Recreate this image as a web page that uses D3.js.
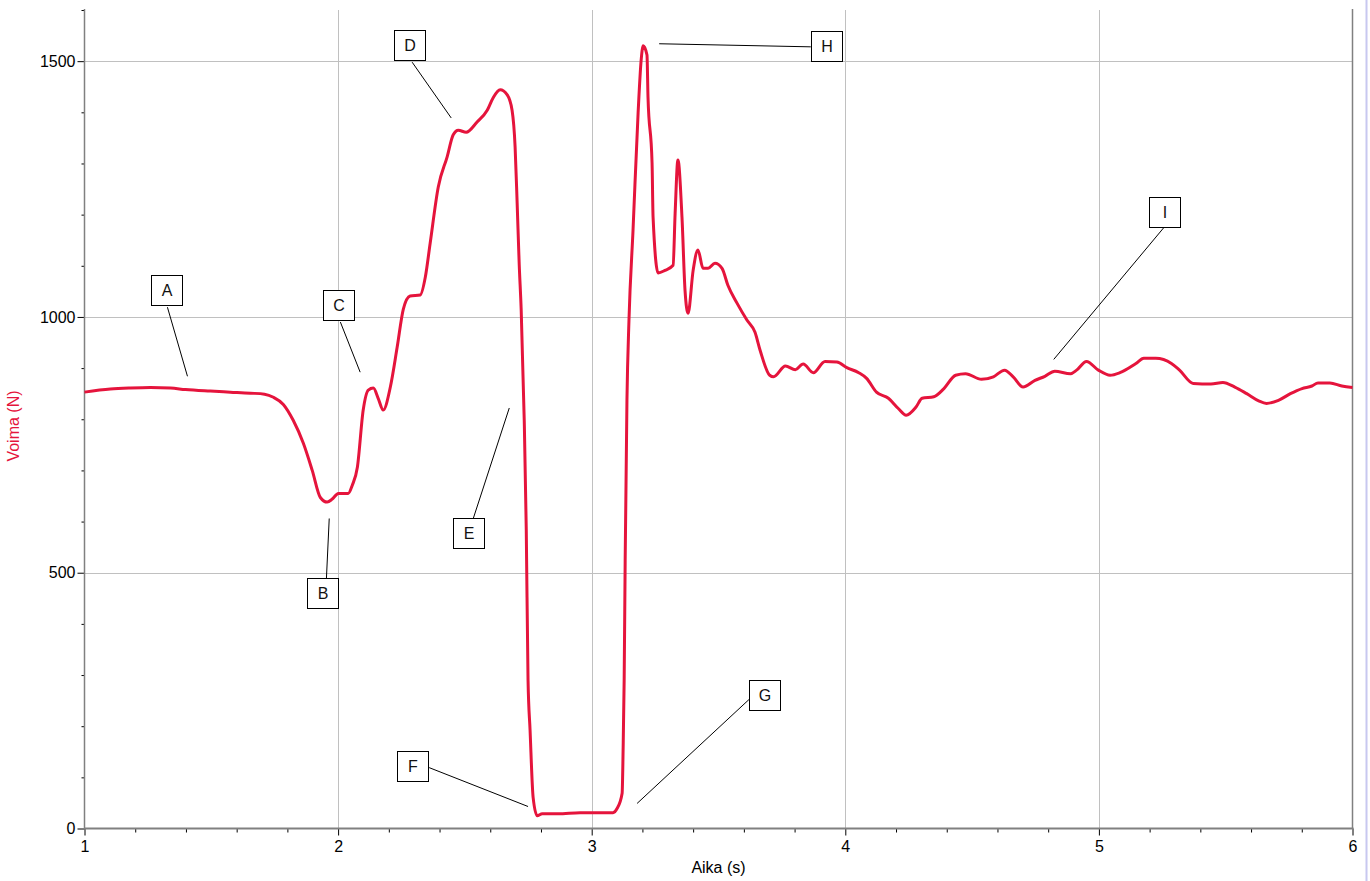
<!DOCTYPE html>
<html>
<head>
<meta charset="utf-8">
<script src="https://cdn.jsdelivr.net/npm/d3@7"></script>
<style>
html,body{margin:0;padding:0;background:#fff;}
svg{display:block;}
text{font-family:Arial,"Liberation Sans",sans-serif;}
</style>
</head>
<body>
<svg id="chart" width="1370" height="881"></svg>
<script>
// ---- data ----
const time = [1.000,1.102,1.181,1.260,1.339,1.398,1.496,1.575,1.654,1.710,1.745,1.784,1.823,1.863,1.898,1.930,1.957,1.977,2.001,2.040,2.056,2.076,2.099,2.119,2.139,2.158,2.178,2.206,2.233,2.257,2.284,2.324,2.344,2.363,2.395,2.430,2.454,2.474,2.505,2.548,2.588,2.611,2.639,2.667,2.686,2.698,2.706,2.714,2.722,2.734,2.742,2.749,2.757,2.769,2.785,2.805,2.824,2.868,2.954,3.084,3.100,3.120,3.124,3.128,3.132,3.139,3.147,3.163,3.183,3.195,3.203,3.218,3.222,3.238,3.242,3.262,3.289,3.321,3.329,3.340,3.356,3.368,3.380,3.400,3.419,3.439,3.459,3.486,3.514,3.537,3.573,3.612,3.644,3.664,3.702,3.717,3.764,3.803,3.834,3.874,3.920,3.967,4.006,4.053,4.084,4.123,4.170,4.209,4.240,4.279,4.303,4.349,4.389,4.435,4.474,4.537,4.584,4.628,4.662,4.701,4.748,4.787,4.826,4.888,4.912,4.951,4.998,5.044,5.083,5.146,5.177,5.224,5.286,5.318,5.372,5.442,5.489,5.536,5.583,5.630,5.661,5.708,5.755,5.801,5.840,5.864,5.911,5.958,6.000];
const force = [853,859,861,862,861,858,855,853,851,849,843,829,798,753,700,647,638,644,655,655,671,706,818,857,861,841,818,863,941,1015,1041,1043,1078,1144,1254,1313,1356,1365,1361,1381,1404,1428,1444,1434,1404,1332,1223,1105,1013,798,583,290,192,61,25,29,29,29,31,31,39,69,158,290,524,837,994,1170,1399,1502,1530,1512,1430,1301,1195,1086,1091,1101,1203,1307,1195,1052,1007,1091,1131,1095,1095,1105,1095,1062,1027,994,970,935,886,883,904,897,908,891,913,912,901,891,880,853,841,821,808,824,841,844,860,886,889,878,883,896,883,863,876,884,894,889,896,913,896,886,891,909,919,919,909,896,870,869,872,863,850,836,831,837,850,860,865,871,871,865,862];
const xTicksMajor = [1,2,3,4,5,6];
const yTicksMajor = [0,500,1000,1500];
const xLabel = "Aika (s)";
const yLabel = "Voima (N)";
// annotations: letter, box centre (t,F), leader line from (t1,F1) to (t2,F2)
const annLetters = ["A","B","C","D","E","F","G","H","I"];
const annBox = [[1.325,1052],[1.940,460],[2.005,1023],[2.284,1531],[2.517,577],[2.296,123],[3.683,260],[3.928,1530],[5.259,1205]];
const annFrom = [[1.327,1019],[1.954,489],[2.009,990],[2.292,1498],[2.533,606],[2.359,119],[3.620,252],[3.864,1528],[5.255,1174]];
const annTo = [[1.406,884],[1.965,606],[2.087,892],[2.446,1389],[2.675,822],[2.749,43],[3.179,49],[3.266,1534],[4.822,917]];

// ---- drawing ----
const svg = d3.select("#chart");
const x = d3.scaleLinear().domain([1,6]).range([84.5,1352.5]);
const y = d3.scaleLinear().domain([0,1600]).range([828.5,10]);
const red = "#e5143c";

// window edge
svg.append("line").attr("x1",1366.5).attr("x2",1366.5).attr("y1",0).attr("y2",881)
  .attr("stroke","#c8c8f0").attr("stroke-width",2);

// grid
const grid = svg.append("g").attr("stroke","#c0c0c0").attr("stroke-width",1);
xTicksMajor.filter(v=>v>1 && v<6).forEach(v=>{
  grid.append("line").attr("x1",Math.round(x(v))+0.5).attr("x2",Math.round(x(v))+0.5)
    .attr("y1",y(1600)).attr("y2",y(0));
});
yTicksMajor.filter(v=>v>0).forEach(v=>{
  grid.append("line").attr("y1",Math.round(y(v))+0.5).attr("y2",Math.round(y(v))+0.5)
    .attr("x1",x(1)).attr("x2",x(6));
});

// axes
const xAxis = d3.axisBottom(x).tickValues(d3.range(1,6.001,0.2)).tickSize(4)
  .tickFormat(d=> Math.abs(d-Math.round(d))<1e-6 ? d3.format("d")(Math.round(d)) : "");
const gx = svg.append("g").attr("transform","translate(0,828.5)").call(xAxis);
gx.select(".domain").remove();
gx.selectAll(".tick line").attr("stroke","#000")
  .attr("y2",d=> Math.abs(d-Math.round(d))<1e-6 ? 7 : 4);
gx.selectAll(".tick text").attr("font-size",16).attr("fill","#000").attr("dy","0.45em").attr("y",16)
  .attr("font-family","Arial, 'Liberation Sans', sans-serif");

const yAxis = d3.axisLeft(y).tickValues(d3.range(0,1601,100)).tickSize(3)
  .tickFormat(d=> yTicksMajor.includes(d) ? d : "");
const gy = svg.append("g").attr("transform","translate(84.5,0)").call(yAxis);
gy.select(".domain").remove();
gy.selectAll(".tick line").attr("stroke","#000")
  .attr("x2",d=> yTicksMajor.includes(d) ? -7 : -3);
gy.selectAll(".tick text").attr("font-size",16).attr("fill","#000").attr("x",-9)
  .attr("font-family","Arial, 'Liberation Sans', sans-serif");

// axis lines
svg.append("line").attr("x1",x(1)).attr("x2",x(1)).attr("y1",y(1600)-1).attr("y2",y(0)+1)
  .attr("stroke","#808080").attr("stroke-width",1.5);
svg.append("line").attr("x1",x(1)).attr("x2",x(6)+1).attr("y1",y(0)).attr("y2",y(0))
  .attr("stroke","#808080").attr("stroke-width",2);
svg.append("line").attr("x1",x(6)).attr("x2",x(6)).attr("y1",y(1600)-1).attr("y2",y(0))
  .attr("stroke","#808080").attr("stroke-width",1.5);

// axis titles
svg.append("text").attr("x",(x(1)+x(6))/2).attr("y",873).attr("text-anchor","middle")
  .attr("font-size",16).attr("fill","#000").text(xLabel);
svg.append("text").attr("transform","translate(19,426) rotate(-90)").attr("text-anchor","middle")
  .attr("font-size",16).attr("fill",red).text(yLabel);

// data line
const line = d3.line().x((d,i)=>x(time[i])).y((d,i)=>y(force[i])).curve(d3.curveMonotoneX);
svg.append("path").datum(force).attr("d",line).attr("fill","none")
  .attr("stroke",red).attr("stroke-width",3).attr("stroke-linejoin","round");

// annotations
const ann = svg.append("g");
annLetters.forEach((L,i)=>{
  ann.append("line").attr("x1",x(annFrom[i][0])).attr("y1",y(annFrom[i][1]))
    .attr("x2",x(annTo[i][0])).attr("y2",y(annTo[i][1]))
    .attr("stroke","#000").attr("stroke-width",1);
  const cx = Math.round(x(annBox[i][0])), cy = Math.round(y(annBox[i][1]));
  ann.append("rect").attr("x",cx-15.5).attr("y",cy-14.5).attr("width",31).attr("height",30)
    .attr("fill","#fff").attr("stroke","#000").attr("stroke-width",1);
  ann.append("text").attr("x",cx).attr("y",cy+6).attr("text-anchor","middle")
    .attr("font-size",16).attr("fill","#111").text(L);
});
</script>
</body>
</html>
